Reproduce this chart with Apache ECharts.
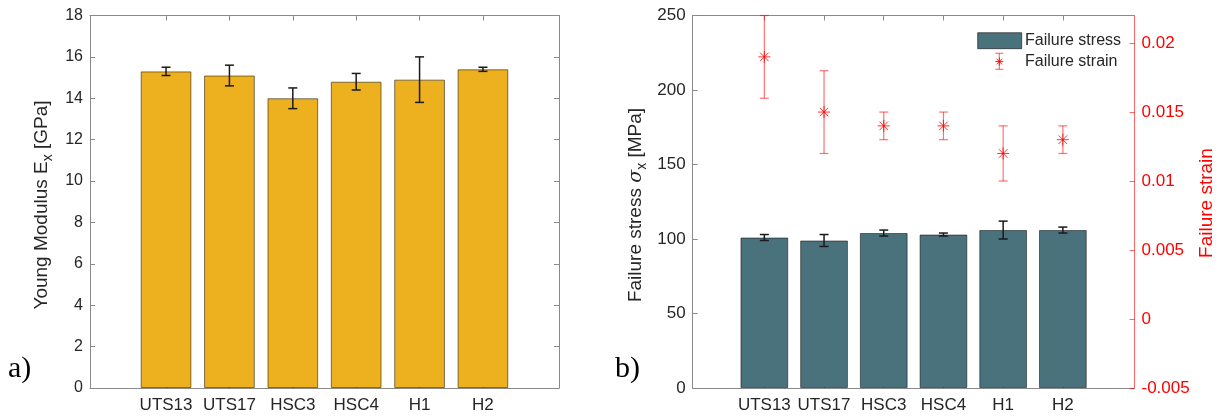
<!DOCTYPE html>
<html><head><meta charset="utf-8">
<script src="https://cdn.jsdelivr.net/npm/echarts@6/dist/echarts.min.js"></script>
<style>html,body{margin:0;padding:0;background:#fff}#c{width:1222px;height:418px}</style>
</head><body><div id="c"></div>
<script>
const categories = ['UTS13', 'UTS17', 'HSC3', 'HSC4', 'H1', 'H2'];
const modulus = [15.3, 15.1, 14.0, 14.8, 14.9, 15.4];
const modulusErr = [0.2, 0.5, 0.5, 0.4, 1.1, 0.1];
const stress = [101, 99, 104, 103, 106, 106];
const stressErr = [2, 4, 2, 1, 6, 2];
const strain = [0.019, 0.015, 0.014, 0.014, 0.012, 0.013];
const strainErr = [0.003, 0.003, 0.001, 0.001, 0.002, 0.001];
const strainTicks = [-0.005, 0, 0.005, 0.01, 0.015, 0.02];

const FONT = 'Liberation Sans, Arial, Helvetica, sans-serif';
const TXT = '#262626';
const AX = '#8a8a8a';
const RED = '#ff0000';
const xPos = categories.map((c, i) => i + 1);
const X_MIN = -0.2, X_MAX = 7.2;

const G0 = {left: 90, top: 15.5, width: 469, height: 372.5};
const G1 = {left: 692.7, top: 15.5, width: 441.8, height: 372.5};
const bw0 = 0.8 * G0.width / (X_MAX - X_MIN);
const bw1 = 0.8 * G1.width / (X_MAX - X_MIN);

function xAxisDef(grid, pos, showLabel, fs) {
  return {
    type: 'value', gridIndex: grid, position: pos, min: X_MIN, max: X_MAX,
    axisLine: {show: true, onZero: false, lineStyle: {color: AX, width: 1}},
    axisTick: {show: true, inside: true, length: 5, customValues: xPos, lineStyle: {color: AX}},
    axisLabel: {show: showLabel, customValues: xPos, margin: 9, fontSize: fs, fontFamily: FONT, color: TXT,
      formatter: v => categories[Math.round(v) - 1] || ''},
    splitLine: {show: false}
  };
}

function errRender(color, cap, lw) {
  return function (params, api) {
    const x = api.value(0), y = api.value(1), e = api.value(2);
    const a = api.coord([x, y + e]), b = api.coord([x, y - e]);
    const st = {stroke: color, lineWidth: lw};
    return {type: 'group', children: [
      {type: 'line', shape: {x1: a[0], y1: a[1], x2: b[0], y2: b[1]}, style: st},
      {type: 'line', shape: {x1: a[0] - cap, y1: a[1], x2: a[0] + cap, y2: a[1]}, style: st},
      {type: 'line', shape: {x1: b[0] - cap, y1: b[1], x2: b[0] + cap, y2: b[1]}, style: st}
    ]};
  };
}

function asterisk(cx, cy, r, color, lw) {
  const d = r * 0.7071;
  const st = {stroke: color, lineWidth: lw};
  return [
    {type: 'line', shape: {x1: cx - r, y1: cy, x2: cx + r, y2: cy}, style: st},
    {type: 'line', shape: {x1: cx, y1: cy - r, x2: cx, y2: cy + r}, style: st},
    {type: 'line', shape: {x1: cx - d, y1: cy - d, x2: cx + d, y2: cy + d}, style: st},
    {type: 'line', shape: {x1: cx - d, y1: cy + d, x2: cx + d, y2: cy - d}, style: st}
  ];
}

const strainRender = function (params, api) {
  const x = api.value(0), y = api.value(1), e = api.value(2);
  const a = api.coord([x, y + e]), b = api.coord([x, y - e]), c = api.coord([x, y]);
  const st = {stroke: 'rgba(255,0,0,0.55)', lineWidth: 1.2};
  const cap = 4.5;
  return {type: 'group', children: [
    {type: 'line', shape: {x1: a[0], y1: a[1], x2: b[0], y2: b[1]}, style: st},
    {type: 'line', shape: {x1: a[0] - cap, y1: a[1], x2: a[0] + cap, y2: a[1]}, style: st},
    {type: 'line', shape: {x1: b[0] - cap, y1: b[1], x2: b[0] + cap, y2: b[1]}, style: st}
  ].concat(asterisk(c[0], c[1], 6, 'rgba(255,0,0,0.8)', 1))};
};

function yAxisDef(grid, pos, min, max, extra) {
  return Object.assign({
    type: 'value', gridIndex: grid, position: pos, min: min, max: max,
    axisLine: {show: true, onZero: false, lineStyle: {color: AX}},
    axisTick: {show: true, inside: true, length: 5, lineStyle: {color: AX}},
    splitLine: {show: false}
  }, extra);
}

const chart = echarts.init(document.getElementById('c'), null, {renderer: 'canvas'});

const legendX = 999.3;
const option = {
  backgroundColor: '#fff',
  animation: false,
  grid: [
    Object.assign({containLabel: false}, G0),
    Object.assign({containLabel: false}, G1)
  ],
  xAxis: [
    xAxisDef(0, 'bottom', true, 17),
    xAxisDef(0, 'top', false, 17),
    xAxisDef(1, 'bottom', true, 17),
    xAxisDef(1, 'top', false, 17)
  ],
  yAxis: [
    yAxisDef(0, 'left', 0, 18, {interval: 2,
      axisLabel: {margin: 7, fontSize: 16, fontFamily: FONT, color: TXT}}),
    yAxisDef(0, 'right', 0, 18, {interval: 2, axisLabel: {show: false}}),
    yAxisDef(1, 'left', 0, 250, {interval: 50,
      axisLabel: {margin: 7, fontSize: 17, fontFamily: FONT, color: TXT}}),
    yAxisDef(1, 'right', -0.005, 0.022, {
      axisLine: {show: true, onZero: false, lineStyle: {color: 'rgba(255,0,0,0.6)'}},
      axisTick: {show: true, inside: true, length: 5, customValues: strainTicks, lineStyle: {color: 'rgba(255,0,0,0.6)'}},
      axisLabel: {margin: 7, fontSize: 17, fontFamily: FONT, color: RED, customValues: strainTicks,
        formatter: v => String(+(+v).toFixed(4))}})
  ],
  series: [
    {type: 'bar', xAxisIndex: 0, yAxisIndex: 0, barWidth: bw0, z: 2,
      data: xPos.map((x, i) => [x, modulus[i]]),
      itemStyle: {color: '#EDB120', borderColor: 'rgba(0,0,0,0.5)', borderWidth: 1}},
    {type: 'custom', xAxisIndex: 0, yAxisIndex: 0, clip: false, z: 10,
      renderItem: errRender('#1a1a1a', 4.5, 1.5), encode: {x: 0, y: 1},
      data: xPos.map((x, i) => [x, modulus[i], modulusErr[i]])},
    {type: 'bar', xAxisIndex: 2, yAxisIndex: 2, barWidth: bw1, z: 2,
      data: xPos.map((x, i) => [x, stress[i]]),
      itemStyle: {color: '#4A727D', borderColor: 'rgba(0,0,0,0.5)', borderWidth: 1}},
    {type: 'custom', xAxisIndex: 2, yAxisIndex: 2, clip: false, z: 10,
      renderItem: errRender('#1a1a1a', 4.5, 1.5), encode: {x: 0, y: 1},
      data: xPos.map((x, i) => [x, stress[i], stressErr[i]])},
    {type: 'custom', xAxisIndex: 2, yAxisIndex: 3, clip: false, z: 10,
      renderItem: strainRender, encode: {x: 0, y: 1},
      data: xPos.map((x, i) => [x, strain[i], strainErr[i]])}
  ],
  graphic: [
    {type: 'text', x: 42, y: 205, rotation: Math.PI / 2,
      style: {text: 'Young Modulus E{s|x} [GPa]', font: '19px ' + FONT, fill: TXT, align: 'center', verticalAlign: 'middle',
        rich: {s: {fontSize: 14, fontFamily: FONT, fill: TXT, padding: [12, 0, 0, 0]}}}},
    {type: 'text', x: 636, y: 205, rotation: Math.PI / 2,
      style: {text: 'Failure stress {g|σ}{s|x} [MPa]', font: '19px ' + FONT, fill: TXT, align: 'center', verticalAlign: 'middle',
        rich: {g: {fontSize: 19, fontStyle: 'italic', fontFamily: 'DejaVu Serif', fill: TXT},
               s: {fontSize: 14, fontFamily: FONT, fill: TXT, padding: [12, 0, 0, 0]}}}},
    {type: 'text', x: 1207, y: 203, rotation: Math.PI / 2,
      style: {text: 'Failure strain', font: '19px ' + FONT, fill: RED, align: 'center', verticalAlign: 'middle'}},
    {type: 'text', x: 8, y: 384,
      style: {text: 'a)', font: '30px Liberation Serif, Times New Roman, serif', fill: '#000', align: 'left', verticalAlign: 'bottom'}},
    {type: 'text', x: 615, y: 384,
      style: {text: 'b)', font: '30px Liberation Serif, Times New Roman, serif', fill: '#000', align: 'left', verticalAlign: 'bottom'}},
    {type: 'rect', shape: {x: 977.7, y: 32.7, width: 44, height: 16},
      style: {fill: '#4A727D', stroke: 'rgba(0,0,0,0.55)', lineWidth: 1}},
    {type: 'text', x: 1025, y: 41,
      style: {text: 'Failure stress', font: '16px ' + FONT, fill: TXT, align: 'left', verticalAlign: 'middle'}},
    {type: 'group', children: [
      {type: 'line', shape: {x1: legendX, y1: 53.3, x2: legendX, y2: 69.3}, style: {stroke: 'rgba(255,0,0,0.55)', lineWidth: 1.2}},
      {type: 'line', shape: {x1: legendX - 4, y1: 53.3, x2: legendX + 4, y2: 53.3}, style: {stroke: 'rgba(255,0,0,0.55)', lineWidth: 1.2}},
      {type: 'line', shape: {x1: legendX - 4, y1: 69.3, x2: legendX + 4, y2: 69.3}, style: {stroke: 'rgba(255,0,0,0.55)', lineWidth: 1.2}}
    ].concat(asterisk(legendX, 61.5, 4, 'rgba(255,0,0,0.85)', 1))},
    {type: 'text', x: 1025, y: 62,
      style: {text: 'Failure strain', font: '16px ' + FONT, fill: TXT, align: 'left', verticalAlign: 'middle'}}
  ]
};
chart.setOption(option);
</script>
</body></html>
